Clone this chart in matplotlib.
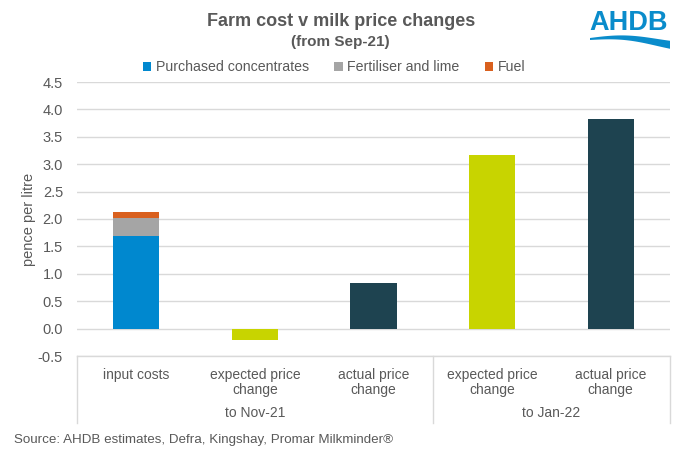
import numpy as np
import matplotlib
matplotlib.use("Agg")
import matplotlib.pyplot as plt
from matplotlib.patches import Polygon

plt.rcParams['font.family'] = ['Liberation Sans', 'DejaVu Sans']

# ---- data ----
categories = ["input costs", "expected price\nchange", "actual price\nchange",
              "expected price\nchange", "actual price\nchange"]
groups = ["to Nov-21", "to Jan-22"]
group_spans = [(0, 2), (3, 4)]
concentrates = [1.69, 0, 0, 0, 0]
fertiliser = [0.33, 0, 0, 0, 0]
fuel = [0.11, 0, 0, 0, 0]
expected = [0, -0.2, 0, 3.17, 0]
actual = [0, 0, 0.83, 0, 3.83]
yticks = [-0.5, 0.0, 0.5, 1.0, 1.5, 2.0, 2.5, 3.0, 3.5, 4.0, 4.5]

c_conc = "#0088CF"
c_fert = "#A5A5A5"
c_fuel = "#D9601E"
c_exp = "#C8D400"
c_act = "#1E4350"
grey = "#595959"

fig = plt.figure(figsize=(6.8, 4.54), dpi=100)
ax = fig.add_axes([77/680, 1-356/454, 593/680, 274/454])

x = np.arange(len(categories))
w = 0.39
conc = np.array(concentrates); fert = np.array(fertiliser); fu = np.array(fuel)
ax.bar(x[:1], conc[:1], w, color=c_conc, label="Purchased concentrates", zorder=3)
ax.bar(x[:1], fert[:1], w, bottom=conc[:1], color=c_fert, label="Fertiliser and lime", zorder=3)
ax.bar(x[:1], fu[:1], w, bottom=(conc+fert)[:1], color=c_fuel, label="Fuel", zorder=3)
exp_idx = [1, 3]
act_idx = [2, 4]
ax.bar(x[exp_idx], np.array(expected)[exp_idx], w, color=c_exp, zorder=3)
ax.bar(x[act_idx], np.array(actual)[act_idx], w, color=c_act, zorder=3)

ax.set_xlim(-0.5, len(categories) - 0.5)
ax.set_ylim(-0.5, 4.5)
ax.set_yticks(yticks)
ax.set_yticklabels([f"{v:.1f}" for v in yticks], color=grey, fontsize=10.5)
ax.yaxis.grid(True, color="#D9D9D9", linewidth=1, zorder=0)
ax.tick_params(axis='y', length=0, pad=10)
for s in ax.spines.values():
    s.set_visible(False)
ax.set_xticks([])
ax.set_ylabel("pence per litre", color=grey, fontsize=10.5, labelpad=1)

# multi-level category axis
trans = ax.get_xaxis_transform()
line_kw = dict(color="#D9D9D9", linewidth=1, transform=trans, clip_on=False)
ax.plot([-0.5, 4.5], [0, 0], **line_kw)
box_bottom = -(423-356)/274
for xv in [-0.5, 2.5, 4.5]:
    ax.plot([xv, xv], [0, box_bottom], **line_kw)
for i, lab in enumerate(categories):
    ax.text(x[i], -(368-356)/274, lab, transform=trans, ha="center", va="top",
            fontsize=10, color=grey, linespacing=1.05)
for g, (a, b) in zip(groups, group_spans):
    ax.text((a+b)/2, -(413-356)/274, g, transform=trans, ha="center", va="center",
            fontsize=10, color=grey)

# legend
fig.legend(loc="center", bbox_to_anchor=(334/680, 1-67/454), ncol=3, frameon=False,
           fontsize=10.2, handlelength=0.6, handleheight=0.6, handletextpad=0.3,
           columnspacing=1.8, labelcolor=grey)

# titles
fig.text(341/680, 1-21/454, "Farm cost v milk price changes", ha="center", va="center",
         fontsize=13, fontweight="bold", color=grey)
fig.text(340/680, 1-42/454, "(from Sep-21)", ha="center", va="center",
         fontsize=11, fontweight="bold", color=grey)

# source
fig.text(14/680, 1-440/454, "Source: AHDB estimates, Defra, Kingshay, Promar Milkminder\u00ae",
         ha="left", va="center", fontsize=9.6, color=grey)

# logo
fig.text(629/680, 1-23/454, "AHDB", ha="center", va="center", fontsize=19.5,
         fontweight="bold", color="#0A8CCB")
t = np.linspace(0, 1, 60)
xs = 590 + 80*t
top = 38 - 3*np.sin(np.pi*t*1.2) + 1*t
bot = top + 2 + 6*t
pts = np.concatenate([np.column_stack([xs, top]), np.column_stack([xs[::-1], bot[::-1]])])
pts_fig = np.column_stack([pts[:, 0]/680, 1 - pts[:, 1]/454])
fig.patches.append(Polygon(pts_fig, closed=True, transform=fig.transFigure,
                           color="#0A8CCB", lw=0))

fig.savefig("out.png", dpi=100)
